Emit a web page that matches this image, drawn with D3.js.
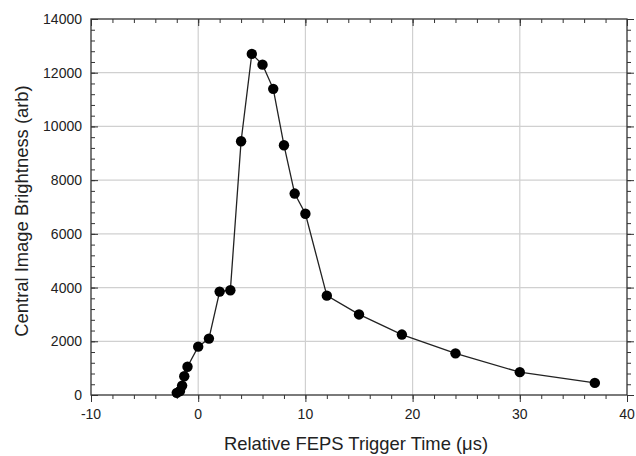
<!DOCTYPE html>
<html>
<head>
<meta charset="utf-8">
<script src="https://cdn.jsdelivr.net/npm/d3@7"></script>
<style>
  body { margin: 0; background: #fff; }
  text { font-family: "Liberation Sans", Arial, sans-serif; fill: #222; }
</style>
</head>
<body>
<div id="chart"></div>
<script>
// trigger time (us) and brightness (arb)
var times = [-2, -1.7, -1.5, -1.3, -1.0, 0, 1, 2, 3, 4, 5, 6, 7, 8, 9, 10, 12, 15, 19, 24, 30, 37];
var brightness = [80, 150, 350, 700, 1050, 1800, 2100, 3850, 3900, 9450, 12700, 12300, 11400, 9300, 7500, 6750, 3700, 3000, 2250, 1550, 850, 450];
var xTicks = [-10, 0, 10, 20, 30, 40];
var yTicks = [0, 2000, 4000, 6000, 8000, 10000, 12000, 14000];

var data = times.map(function(t, i){
  return { t: t, v: brightness[i] };
});

var chart_width = 636;
var chart_height = 456;
var margin = { top: 19, right: 9, bottom: 61, left: 91 };

var svg = d3.select('#chart')
          .append('svg')
          .attr('width', chart_width)
          .attr('height', chart_height);

var x_scale = d3.scaleLinear()
              .domain([-10, 40])
              .range([margin.left, chart_width - margin.right]);

var y_scale = d3.scaleLinear()
              .domain([0, 14000])
              .range([chart_height - margin.bottom, margin.top]);

var x0 = x_scale.range()[0], x1 = x_scale.range()[1];
var y0 = y_scale.range()[0], y1 = y_scale.range()[1];

// grid
svg.append('g')
 .selectAll('line')
 .data(xTicks.slice(1, -1))
 .enter()
 .append('line')
 .attr('x1', function(d){ return x_scale(d); })
 .attr('x2', function(d){ return x_scale(d); })
 .attr('y1', y0)
 .attr('y2', y1)
 .attr('stroke', '#d0d0d0')
 .attr('stroke-width', 1.2);

svg.append('g')
 .selectAll('line')
 .data(yTicks.slice(1, -1))
 .enter()
 .append('line')
 .attr('x1', x0)
 .attr('x2', x1)
 .attr('y1', function(d){ return y_scale(d); })
 .attr('y2', function(d){ return y_scale(d); })
 .attr('stroke', '#d0d0d0')
 .attr('stroke-width', 1.2);

// inward ticks on all four sides
function ticks(axis, scale, values, size){
  return axis(scale).tickValues(values).tickSize(size).tickFormat('');
}
var xMinor = d3.range(-10, 40.1, 2);
var yMinor = d3.range(0, 14001, 400);

[[d3.axisBottom, y0, -1], [d3.axisTop, y1, 1]].forEach(function(a){
  svg.append('g').attr('class', 'tk').attr('transform', 'translate(0,' + a[1] + ')')
   .call(ticks(a[0], x_scale, xMinor, a[2] * -4));
  svg.append('g').attr('class', 'tk').attr('transform', 'translate(0,' + a[1] + ')')
   .call(ticks(a[0], x_scale, xTicks, a[2] * -7));
});
[[d3.axisLeft, x0, -1], [d3.axisRight, x1, 1]].forEach(function(a){
  svg.append('g').attr('class', 'tk').attr('transform', 'translate(' + a[1] + ',0)')
   .call(ticks(a[0], y_scale, yMinor, a[2] * 4));
  svg.append('g').attr('class', 'tk').attr('transform', 'translate(' + a[1] + ',0)')
   .call(ticks(a[0], y_scale, yTicks, a[2] * 7));
});
svg.selectAll('.tk .domain').remove();
svg.selectAll('.tk line').attr('stroke', '#333').attr('stroke-width', 1);

// frame
svg.append('rect')
 .attr('x', x0)
 .attr('y', y1)
 .attr('width', x1 - x0)
 .attr('height', y0 - y1)
 .attr('fill', 'none')
 .attr('stroke', '#333')
 .attr('stroke-width', 1.3);

// tick labels
svg.append('g')
 .selectAll('text')
 .data(xTicks)
 .enter()
 .append('text')
 .text(function(d){ return d; })
 .attr('x', function(d){ return x_scale(d); })
 .attr('y', y0 + 24)
 .attr('text-anchor', 'middle')
 .style('font-size', '14px');

svg.append('g')
 .selectAll('text')
 .data(yTicks)
 .enter()
 .append('text')
 .text(function(d){ return d; })
 .attr('x', x0 - 9)
 .attr('y', function(d){ return y_scale(d) + 5; })
 .attr('text-anchor', 'end')
 .style('font-size', '14px');

// axis titles
svg.append('text')
 .text('Relative FEPS Trigger Time (\u03bcs)')
 .attr('x', 356)
 .attr('y', 450)
 .attr('text-anchor', 'middle')
 .style('font-size', '18.4px');

svg.append('text')
 .text('Central Image Brightness (arb)')
 .attr('transform', 'translate(28,211) rotate(-90)')
 .attr('text-anchor', 'middle')
 .style('font-size', '18.4px');

// series
var line = d3.line()
  .x(function(d){ return x_scale(d.t); })
  .y(function(d){ return y_scale(d.v); });

svg.append('path')
 .datum(data)
 .attr('d', line)
 .attr('fill', 'none')
 .attr('stroke', '#222')
 .attr('stroke-width', 1.3);

svg.selectAll('circle')
 .data(data)
 .enter()
 .append('circle')
 .attr('cx', function(d){ return x_scale(d.t); })
 .attr('cy', function(d){ return y_scale(d.v); })
 .attr('r', 5.2)
 .attr('fill', '#000');
</script>
</body>
</html>
